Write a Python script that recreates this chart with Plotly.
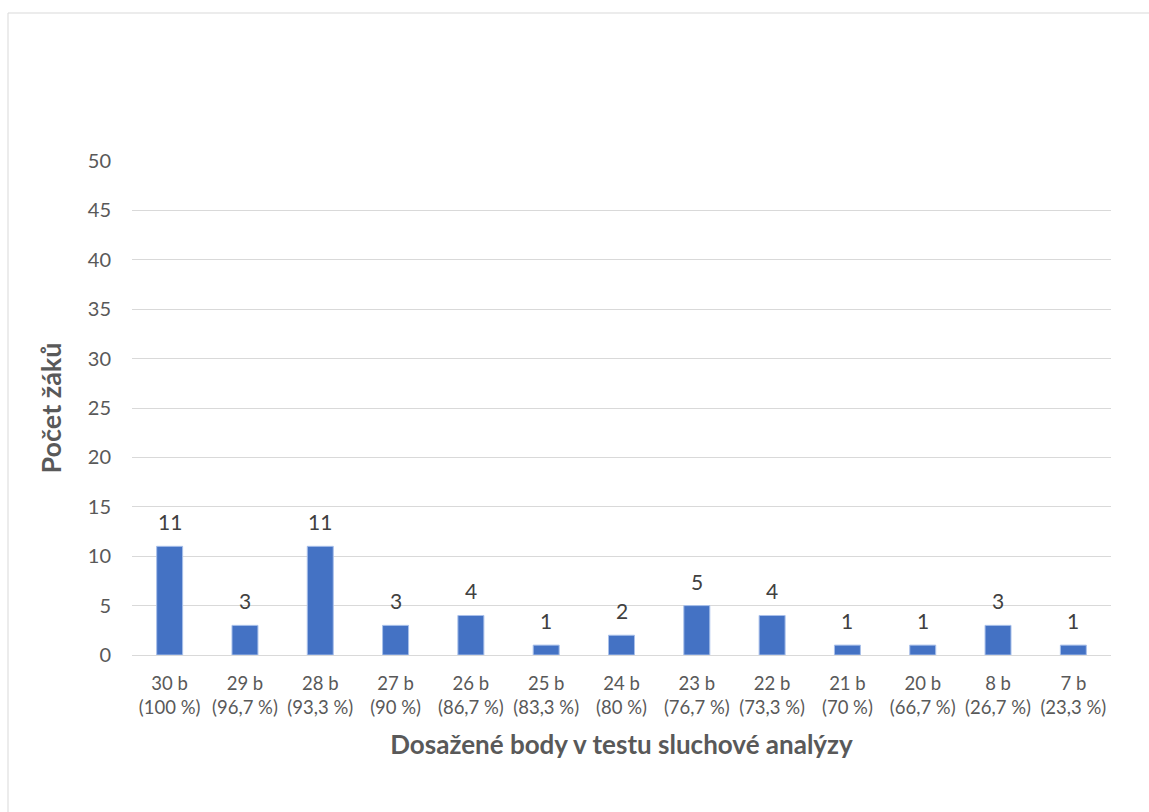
import plotly.graph_objects as go

points = ["30 b", "29 b", "28 b", "27 b", "26 b", "25 b", "24 b", "23 b", "22 b", "21 b", "20 b", "8 b", "7 b"]
percents = ["100 %", "96,7 %", "93,3 %", "90 %", "86,7 %", "83,3 %", "80 %", "76,7 %", "73,3 %", "70 %", "66,7 %", "26,7 %", "23,3 %"]
counts = [11, 3, 11, 3, 4, 1, 2, 5, 4, 1, 1, 3, 1]
y_ticks = [0, 5, 10, 15, 20, 25, 30, 35, 40, 45, 50]

categories = [f"{p}<br>({q})" for p, q in zip(points, percents)]

FONT = "Lato"
GREY = "#595959"

fig = go.Figure(go.Bar(
    x=categories,
    y=counts,
    marker=dict(color="#4472C4", line=dict(color="#A9C0EA", width=1)),
    hoverinfo="x+y",
))

annotations = [
    dict(x=c, y=v, xref="x", yref="y", text=str(v), showarrow=False,
         yanchor="bottom", yshift=10,
         font=dict(family=FONT, size=21, color="#404040"))
    for c, v in zip(categories, counts)
]

fig.update_layout(
    width=1149, height=812,
    margin=dict(l=132, r=38, t=161, b=157),
    paper_bgcolor="white", plot_bgcolor="white",
    bargap=0.655,
    showlegend=False,
    font=dict(family=FONT, color=GREY),
    annotations=annotations,
    xaxis=dict(
        type="category",
        tickfont=dict(family=FONT, size=18.5, color=GREY),
        showgrid=False, zeroline=False, showline=False, ticks="",
        ticklabelstandoff=15,
        title=dict(text="<b>Dosažené body v testu sluchové analýzy</b>",
                   font=dict(family=FONT, size=26, color=GREY), standoff=19),
    ),
    yaxis=dict(
        range=[0, 50], tickvals=y_ticks,
        tickfont=dict(family=FONT, size=20, color=GREY),
        showgrid=True, gridcolor="#D9D9D9", gridwidth=1,
        zeroline=True, zerolinecolor="#D9D9D9", zerolinewidth=1,
        showline=False, ticks="", ticklabelstandoff=20,
        title=dict(text="<b>Počet žáků</b>",
                   font=dict(family=FONT, size=27, color=GREY), standoff=18),
    ),
    shapes=[dict(type="rect", xref="paper", yref="paper",
                 x0=(8 - 132) / 979, x1=(1200 - 132) / 979,
                 y0=(655 - 900) / 494, y1=(655 - 13) / 494,
                 line=dict(color="#D9D9D9", width=1), layer="below")],
)

fig.write_html("out.html")
